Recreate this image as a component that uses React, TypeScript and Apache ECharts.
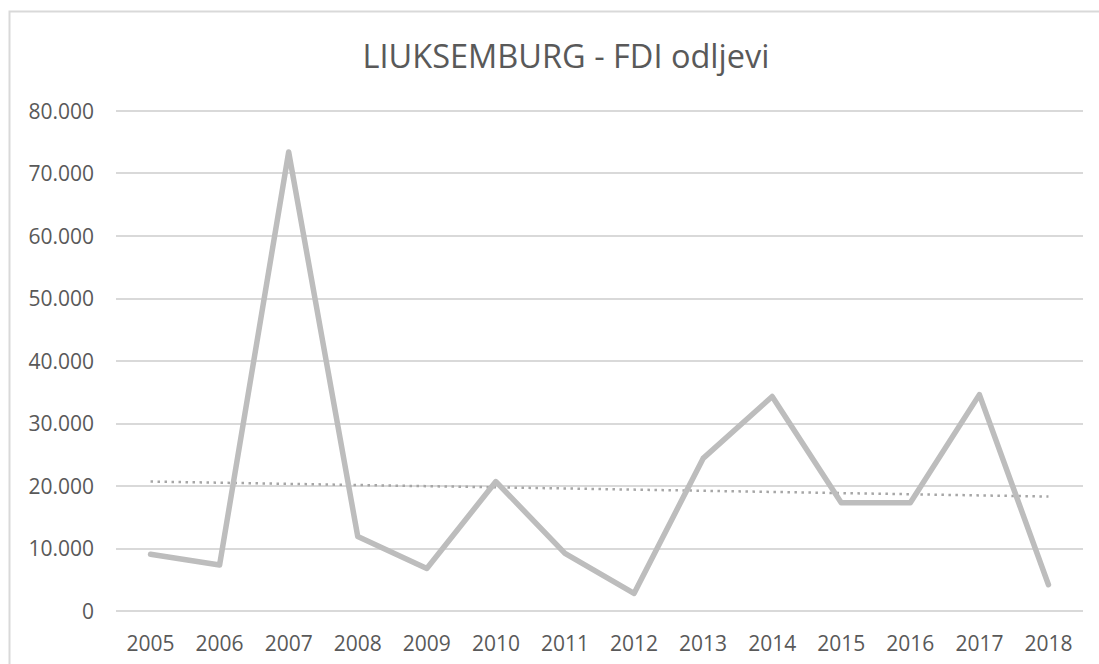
import React, { useEffect, useRef } from "react";
import * as echarts from "echarts";

const years = ["2005", "2006", "2007", "2008", "2009", "2010", "2011", "2012", "2013", "2014", "2015", "2016", "2017", "2018"];
const fdiOutflows = [9060, 7350, 73400, 11900, 6800, 20700, 9200, 2800, 24400, 34300, 17300, 17300, 34600, 4200];
// Trendline read at its two ends (linear)
const trendLine: (number | null)[] = [20700, null, null, null, null, null, null, null, null, null, null, null, null, 18300];
const yTicks = { min: 0, max: 80000, interval: 10000 };
const titleText = "LIUKSEMBURG - FDI odljevi";

function fmt(v: number): string {
  if (v === 0) return "0";
  const s = String(Math.round(v));
  return s.replace(/\B(?=(\d{3})+(?!\d))/g, ".");
}

export default function App() {
  const ref = useRef<HTMLDivElement>(null);
  useEffect(() => {
    document.body.style.margin = "0";
    if (!ref.current) return;
    const chart = echarts.init(ref.current, null, { renderer: "svg" });
    const font = "'Open Sans', sans-serif";
    chart.setOption({
      animation: false,
      backgroundColor: "#ffffff",
      title: {
        text: titleText,
        left: 561,
        top: 34,
        textAlign: "center",
        textStyle: { fontFamily: font, fontSize: 32.5, fontWeight: "normal", color: "#595959" },
      },
      graphic: [
        {
          type: "rect",
          shape: { x: 9.5, y: 11.5, width: 1200, height: 800 },
          style: { fill: "none", stroke: "#d9d9d9", lineWidth: 2 },
          silent: true,
        },
      ],
      grid: { left: 116, right: 16, top: 110.7, bottom: 53, containLabel: false },
      xAxis: {
        type: "category",
        data: years,
        boundaryGap: true,
        axisLine: { show: false },
        axisTick: { show: false },
        axisLabel: { fontFamily: font, fontSize: 21, color: "#595959", margin: 21 },
      },
      yAxis: {
        type: "value",
        min: yTicks.min,
        max: yTicks.max,
        interval: yTicks.interval,
        axisLine: { show: false },
        axisTick: { show: false },
        axisLabel: { fontFamily: font, fontSize: 21, color: "#595959", margin: 22, formatter: fmt },
        splitLine: { lineStyle: { color: "#d9d9d9", width: 2 } },
      },
      series: [
        {
          type: "line",
          data: fdiOutflows,
          symbol: "none",
          lineStyle: { color: "#bdbdbd", width: 5.5, cap: "round", join: "round" },
          z: 3,
        },
        {
          type: "line",
          data: trendLine,
          connectNulls: true,
          symbol: "none",
          lineStyle: { color: "#a6a6a6", width: 2.5, type: [2.5, 4.5] },
          z: 2,
        },
      ],
    });
    return () => chart.dispose();
  }, []);
  return <div ref={ref} style={{ position: "fixed", left: 0, top: 0, width: 1099, height: 664 }} />;
}
